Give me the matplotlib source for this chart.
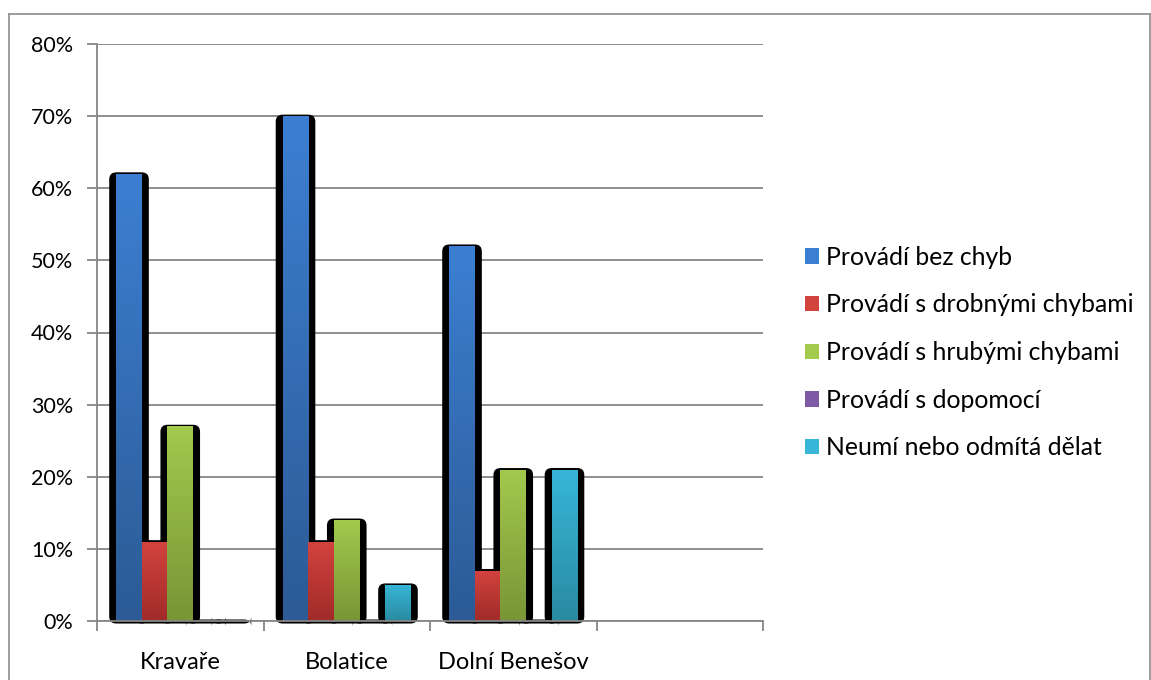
import numpy as np
import matplotlib
matplotlib.use("Agg")
import matplotlib.pyplot as plt
from matplotlib.patches import FancyBboxPatch, Patch
from matplotlib.lines import Line2D
from matplotlib.colors import to_rgb

# ---------------- data ----------------
categories = ["Kravaře", "Bolatice", "Dolní Benešov", ""]
series_names = ["Provádí bez chyb", "Provádí s drobnými chybami",
                "Provádí s hrubými chybami", "Provádí s dopomocí",
                "Neumí nebo odmítá dělat"]
bez_chyb = [62, 70, 52]
drobne = [11, 11, 7]
hrube = [27, 14, 21]
dopomoc = [0, 0, 0]
neumi = [0, 5, 21]
series_values = [bez_chyb, drobne, hrube, dopomoc, neumi]
y_ticks = [0, 10, 20, 30, 40, 50, 60, 70, 80]
y_tick_labels = ["0%", "10%", "20%", "30%", "40%", "50%", "60%", "70%", "80%"]

# gradient colours (top, bottom)
grad = [("#3C7FD2", "#2C5B95"),
        ("#D3433E", "#A02B29"),
        ("#A3C94D", "#799536"),
        ("#7E5AA4", "#5C3F7F"),
        ("#37B6D8", "#2A8AA1")]

plt.rcParams['font.family'] = ['Lato', 'DejaVu Sans']
FS_LEG = 17.8
FS_X = 17.0
FS_Y = 15.5
W, H = 1151, 680
fig = plt.figure(figsize=(W / 100, H / 100), dpi=100)
ax_l, ax_r, ax_t, ax_b = 97, 763, 44, 621
ax = fig.add_axes([ax_l / W, (H - ax_b) / H, (ax_r - ax_l) / W, (ax_b - ax_t) / H])

ax.set_xlim(-0.5, len(categories) - 0.5)
ax.set_ylim(0, 80)

n = len(series_values)
bw = 1 / (n + 1.5)
px_x = (len(categories)) / (ax_r - ax_l)   # data units per px (x)
px_y = 80 / (ax_b - ax_t)                  # data units per px (y)

# shadows first
for j, vals in enumerate(series_values):
    for i, v in enumerate(vals):
        xc = i + (j - (n - 1) / 2) * bw
        padx = 7.0 * px_x
        rr = 7 * px_x
        asp = px_y / px_x
        sh = FancyBboxPatch((xc - bw / 2 - padx, -0.35), bw + 2 * padx, v + 0.35 + 1.5 * px_y,
                            boxstyle=f"round,pad=0,rounding_size={rr}",
                            mutation_aspect=asp, fc="black", ec="none",
                            zorder=1.5, clip_on=False)
        ax.add_patch(sh)

# bars with gradient
for j, vals in enumerate(series_values):
    xs = [i + (j - (n - 1) / 2) * bw for i in range(len(vals))]
    bars = ax.bar(xs, vals, width=bw, color="none", edgecolor="none", zorder=2)
    top, bot = np.array(to_rgb(grad[j][0])), np.array(to_rgb(grad[j][1]))
    t = np.linspace(0, 1, 128)[:, None, None]
    img = top * (1 - t) + bot * t
    for b in bars:
        if b.get_height() <= 0:
            continue
        x0 = b.get_x()
        im = ax.imshow(img, extent=[x0, x0 + b.get_width(), 0, b.get_height()],
                       aspect="auto", zorder=2, interpolation="bilinear")
        im.set_clip_path(b)

ax.set_xlim(-0.5, len(categories) - 0.5)
ax.set_ylim(0, 80)

# grid & axes styling
gc = "#868686"
ax.set_yticks(y_ticks)
ax.set_yticklabels(y_tick_labels)
ax.yaxis.grid(True, color=gc, linewidth=1.3)
ax.set_axisbelow(True)
ax.set_xticks(range(len(categories)))
ax.set_xticklabels(categories)
ax.set_xticks(np.arange(-0.5, len(categories), 1.0), minor=True)
ax.tick_params(axis="x", which="major", length=0, pad=22, labelsize=FS_X, colors="black")
ax.tick_params(axis="x", which="minor", length=7, width=1.3, color=gc, direction="out")
ax.tick_params(axis="y", length=7, width=1.3, color=gc, pad=10, labelsize=FS_Y)
for s in ["top", "right"]:
    ax.spines[s].set_visible(False)
for s in ["left", "bottom"]:
    ax.spines[s].set_color(gc)
    ax.spines[s].set_linewidth(1.3)
    ax.spines[s].set_zorder(3)

# legend
handles = [Patch(facecolor=grad[j][0], edgecolor="none", label=series_names[j]) for j in range(n)]
leg = fig.legend(handles=handles, loc="center left", bbox_to_anchor=(805 / W, (H - 352.5) / H),
                 frameon=False, fontsize=FS_LEG, handlelength=0.58, handleheight=0.58,
                 handletextpad=0.28, labelspacing=1.0, borderpad=0, borderaxespad=0)

# outer frame
fc = "#8C8C8C"
fig.add_artist(Line2D([9 / W, 9 / W], [0, 1 - 14 / H], color=fc, lw=1.2, transform=fig.transFigure))
fig.add_artist(Line2D([9 / W, 1150 / W], [1 - 14 / H, 1 - 14 / H], color=fc, lw=1.2, transform=fig.transFigure))
fig.add_artist(Line2D([1150 / W, 1150 / W], [0, 1 - 14 / H], color=fc, lw=1.2, transform=fig.transFigure))

fig.savefig("out.png", dpi=100)
